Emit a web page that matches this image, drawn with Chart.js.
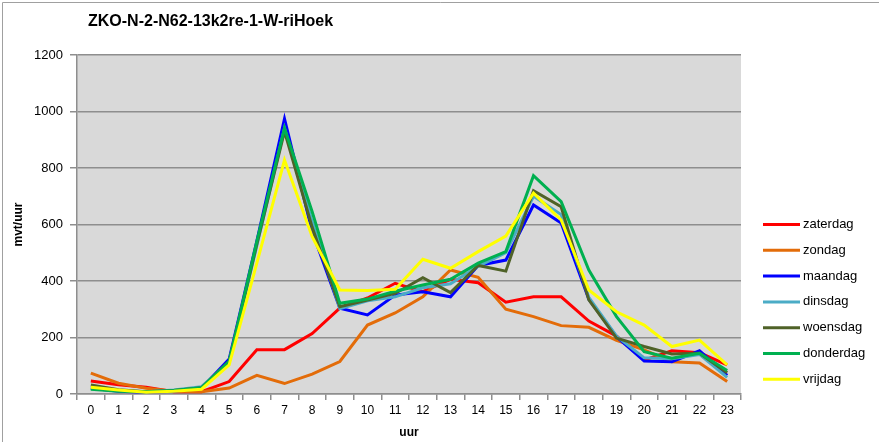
<!DOCTYPE html>
<html>
<head>
<meta charset="utf-8">
<script src="https://cdn.jsdelivr.net/npm/chart.js@4"></script>
<style>
  body { margin: 0; background: #fff; }
  #wrap { width: 879px; height: 442px; position: relative; }
</style>
</head>
<body>
<div id="wrap"><canvas id="dayChart"></canvas></div>
<script>
const chartTitle = 'ZKO-N-2-N62-13k2re-1-W-riHoek';
const hours = ['0','1','2','3','4','5','6','7','8','9','10','11','12','13','14','15','16','17','18','19','20','21','22','23'];
const yTicks = [0, 200, 400, 600, 800, 1000, 1200];

const dayNames = ['zaterdag', 'zondag', 'maandag', 'dinsdag', 'woensdag', 'donderdag', 'vrijdag'];
const dayColors = ['#FF0000', '#E36C09', '#0000FF', '#4BACC6', '#4F6228', '#00B050', '#FFFF00'];

const zaterdag  = [46, 33, 24, 8, 8, 44, 157, 157, 214, 304, 340, 392, 362, 406, 394, 325, 344, 344, 258, 205, 120, 153, 146, 103];
const zondag    = [74, 38, 20, 10, 8, 21, 66, 37, 70, 115, 244, 287, 344, 439, 413, 300, 274, 242, 236, 190, 156, 114, 110, 44];
const maandag   = [20, 10, 6, 10, 20, 124, 541, 974, 575, 304, 280, 350, 362, 344, 455, 474, 669, 605, 335, 203, 117, 114, 153, 66];
const dinsdag   = [20, 12, 8, 14, 26, 112, 525, 940, 610, 302, 330, 344, 376, 390, 452, 500, 700, 635, 342, 205, 128, 125, 140, 59];
const woensdag  = [32, 15, 8, 12, 22, 116, 530, 930, 590, 309, 333, 356, 412, 359, 455, 435, 720, 663, 333, 198, 168, 142, 144, 75];
const donderdag = [17, 10, 8, 12, 22, 116, 540, 941, 645, 321, 336, 364, 386, 406, 463, 504, 773, 681, 439, 274, 150, 127, 144, 83];
const vrijdag   = [24, 14, 6, 10, 17, 103, 463, 828, 557, 368, 366, 371, 477, 445, 504, 559, 711, 616, 368, 291, 244, 168, 191, 103];

const seriesValues = [zaterdag, zondag, maandag, dinsdag, woensdag, donderdag, vrijdag];

const FONT = "'Liberation Sans', Arial, sans-serif";
const GRID = '#8E8E8E';

// grey plot area, outer frame, title and the legend on the right
const decorPlugin = {
  id: 'decor',
  beforeDraw(chart) {
    const { ctx, chartArea } = chart;
    ctx.save();
    ctx.fillStyle = '#D9D9D9';
    ctx.fillRect(chartArea.left, chartArea.top, chartArea.right - chartArea.left, chartArea.bottom - chartArea.top);
    ctx.restore();
  },
  afterDraw(chart) {
    const { ctx } = chart;
    ctx.save();
    ctx.strokeStyle = '#A0A0A0';
    ctx.lineWidth = 1;
    ctx.beginPath();
    ctx.moveTo(2.5, 442);
    ctx.lineTo(2.5, 2.5);
    ctx.lineTo(879, 2.5);
    ctx.stroke();

    ctx.fillStyle = '#000';
    ctx.font = 'bold 16px ' + FONT;
    ctx.textBaseline = 'middle';
    ctx.textAlign = 'left';
    ctx.fillText(chartTitle, 88, 22);

    ctx.font = '13px ' + FONT;
    chart.data.datasets.forEach((ds, i) => {
      const y = 224.5 + i * 25.8;
      ctx.strokeStyle = ds.borderColor;
      ctx.lineWidth = 3;
      ctx.beginPath();
      ctx.moveTo(763, y);
      ctx.lineTo(800, y);
      ctx.stroke();
      ctx.fillStyle = '#000';
      ctx.fillText(ds.label, 803, y);
    });
    ctx.restore();
  }
};

new Chart(document.getElementById('dayChart'), {
  type: 'line',
  data: {
    labels: hours,
    datasets: dayNames.map((name, i) => ({
      label: name,
      data: seriesValues[i],
      borderColor: dayColors[i],
      backgroundColor: dayColors[i],
      borderWidth: 3,
      pointRadius: 0,
      tension: 0,
      order: dayNames.length - i
    }))
  },
  options: {
    responsive: true,
    maintainAspectRatio: false,
    animation: false,
    layout: { padding: { top: 55, right: 138, left: 0, bottom: 0 } },
    plugins: {
      legend: { display: false },
      title: { display: false },
      tooltip: { enabled: false }
    },
    scales: {
      x: {
        offset: true,
        grid: {
          offset: true,
          drawOnChartArea: false,
          drawTicks: true,
          tickLength: 6,
          color: GRID,
          lineWidth: 1.5
        },
        border: { color: GRID, width: 1.5 },
        ticks: {
          font: { family: FONT, size: 12 },
          color: '#000',
          padding: 3,
          maxRotation: 0,
          autoSkip: false
        },
        title: {
          display: true,
          text: 'uur',
          color: '#000',
          font: { family: FONT, size: 12, weight: 'bold' },
          padding: { top: 0, bottom: 2 }
        },
        afterFit(scale) { scale.height = 48; }
      },
      y: {
        min: 0,
        max: 1200,
        afterBuildTicks(scale) { scale.ticks = yTicks.map(v => ({ value: v })); },
        grid: {
          color: GRID,
          lineWidth: 1.5,
          drawTicks: true,
          tickLength: 7
        },
        border: { color: GRID, width: 1.5 },
        ticks: {
          font: { family: FONT, size: 13 },
          color: '#000',
          padding: 7,
          callback: (value) => String(value)
        },
        title: {
          display: true,
          text: 'mvt/uur',
          color: '#000',
          font: { family: FONT, size: 12, weight: 'bold' },
          padding: { top: 11, bottom: 0 }
        },
        afterFit(scale) { scale.width = 77; }
      }
    }
  },
  plugins: [decorPlugin]
});
</script>
</body>
</html>
